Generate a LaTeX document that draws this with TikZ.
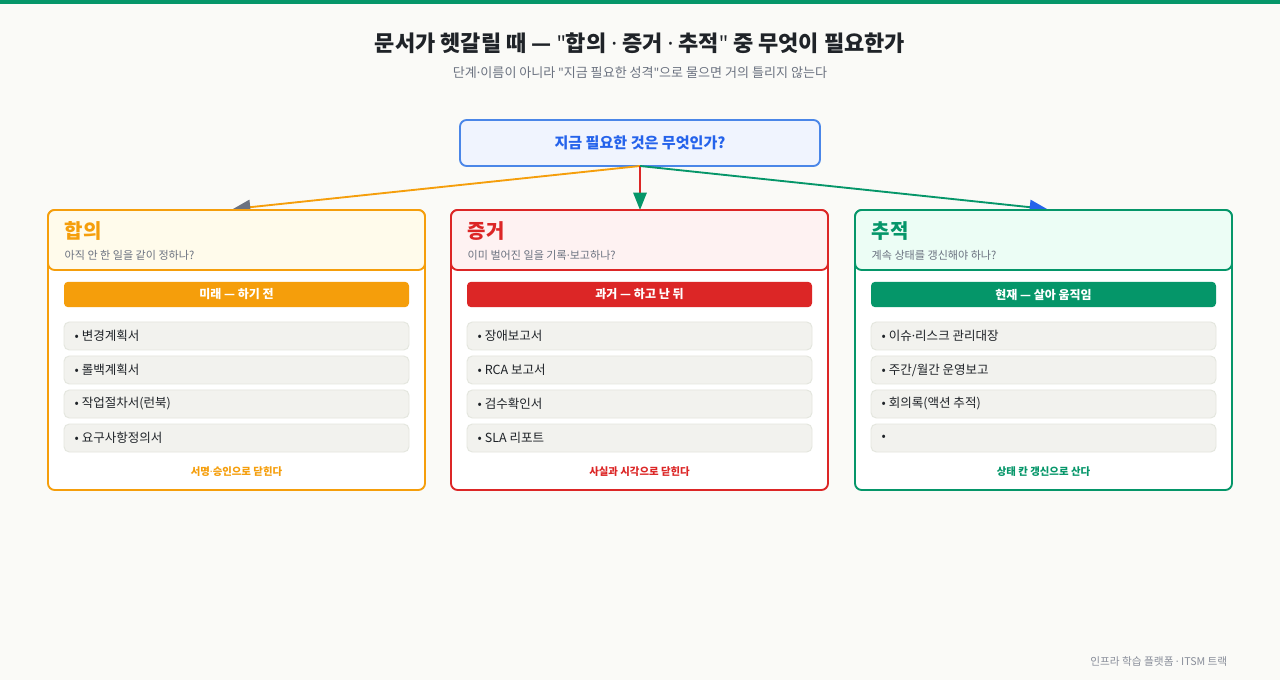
\documentclass[tikz,border=0pt]{standalone}
\usepackage{fontspec}
\setmainfont{Noto Sans CJK KR}
\newfontfamily\latn{Noto Sans}
\newcommand{\md}{{\latn ·}}
\newcommand{\qt}{{\latn\char"22}}
\usetikzlibrary{arrows.meta}
\definecolor{bg}{HTML}{FAFAF7}
\definecolor{cor}{HTML}{F59E0B}
\definecolor{cred}{HTML}{DC2626}
\definecolor{cgr}{HTML}{059669}
\definecolor{cbl}{HTML}{2563EB}
\definecolor{cbls}{HTML}{4A86E8}
\definecolor{hor}{HTML}{FFFBEB}
\definecolor{hred}{HTML}{FEF2F2}
\definecolor{hgr}{HTML}{ECFDF5}
\definecolor{itemf}{HTML}{F2F2EE}
\definecolor{items}{HTML}{E4E6DE}
\definecolor{txt}{HTML}{1F2328}
\definecolor{gry}{HTML}{6B7280}
\definecolor{tipgray}{HTML}{6B7280}
\tikzset{
 card/.style={draw=#1,line width=1.4pt,rounded corners=5pt,fill=white},
 itembox/.style={draw=items,line width=0.7pt,fill=itemf,rounded corners=4pt,minimum width=258.75pt,minimum height=21pt,inner sep=0pt},
 itemtxt/.style={font=\fontsize{9.4pt}{11pt}\selectfont,text=txt,anchor=west},
 pill/.style={fill=#1,rounded corners=3pt,minimum width=258.75pt,minimum height=19pt,inner sep=0pt,text=white,font=\bfseries\fontsize{9pt}{11pt}\selectfont},
 conn/.style={line width=1.4pt,draw=#1},
}
\begin{document}
\begin{tikzpicture}[x=0.75pt,y=-0.75pt]
\fill[bg] (0,0) rectangle (1280,680);
\useasboundingbox (0,0) rectangle (1280,680);
\fill[cgr] (0,0) rectangle (1280,4);
\node[font=\bfseries\fontsize{16.5pt}{20pt}\selectfont,text=txt] (title) at (640,43) {문서가 헷갈릴 때 — \qt 합의 \md{} 증거 \md{} 추적\qt{} 중 무엇이 필요한가};
\node[font=\fontsize{9.8pt}{12pt}\selectfont,text=gry] (sub) at (640,73) {단계\md 이름이 아니라 \qt 지금 필요한 성격\qt 으로 물으면 거의 틀리지 않는다};
\node[draw=cbls,fill=cbl!7,line width=1.4pt,rounded corners=5pt,minimum width=270pt,minimum height=34.5pt,text=cbl,font=\bfseries\fontsize{11.3pt}{13pt}\selectfont] (q) at (640,143) {지금 필요한 것은 무엇인가?};
\coordinate (qb) at (640,166);
\coordinate (ta) at (233,209);
\coordinate (tb) at (640,210);
\coordinate (tc) at (1047,209);
\draw[conn=cor,-{Triangle[length=13pt,width=11pt,fill=tipgray,color=tipgray]}] (qb) -- (ta);
\draw[conn=cred,-{Triangle[length=13pt,width=10pt,fill=cgr,color=cgr]}] (qb) -- (tb);
\draw[conn=cgr,-{Triangle[length=13pt,width=11pt,fill=cbl,color=cbl]}] (qb) -- (tc);
\foreach \x/\c/\h/\t/\s/\p/\f/\a/\b/\cc/\d in {
 48/cor/hor/합의/{아직 안 한 일을 같이 정하나?}/{미래 — 하기 전}/{서명\md 승인으로 닫힌다}/변경계획서/롤백계획서/작업절차서(런북)/요구사항정의서,
 451/cred/hred/증거/{이미 벌어진 일을 기록\md 보고하나?}/{과거 — 하고 난 뒤}/{사실과 시각으로 닫힌다}/장애보고서/RCA 보고서/검수확인서/SLA 리포트,
 855/cgr/hgr/추적/{계속 상태를 갱신해야 하나?}/{현재 — 살아 움직임}/{상태 칸 갱신으로 산다}/{이슈\md 리스크 관리대장}/{주간/월간 운영보고}/{회의록(액션 추적)}/}{
 \draw[card=\c] (\x,210) rectangle ++(377,280);
 \draw[draw=\c,line width=1.4pt,fill=\h,rounded corners=5pt] (\x,210) rectangle ++(377,60);
 \node[anchor=west,text=\c,font=\bfseries\fontsize{15pt}{18pt}\selectfont] at (\x+12,231) {\t};
 \node[anchor=west,text=gry,font=\fontsize{8.3pt}{10pt}\selectfont] at (\x+12,255) {\s};
 \node[pill=\c] at (\x+188.5,294.5) {\p};
 \node[text=\c,font=\bfseries\fontsize{7.8pt}{9pt}\selectfont] at (\x+188.5,472) {\f};
 \foreach \it [count=\k] in {\a,\b,\cc,\d}{
   \ifx\it\empty\else
   \node[itembox] at (\x+188.5,336+34*\k-34) {};
   \node[itemtxt] at (\x+22,336+34*\k-34) {• \it};
   \fi
 }
}
\node[anchor=east,text=gry!80,font=\fontsize{8pt}{10pt}\selectfont] (foot) at (1232,661) {인프라 학습 플랫폼 \md{} ITSM 트랙};
\end{tikzpicture}
\end{document}
